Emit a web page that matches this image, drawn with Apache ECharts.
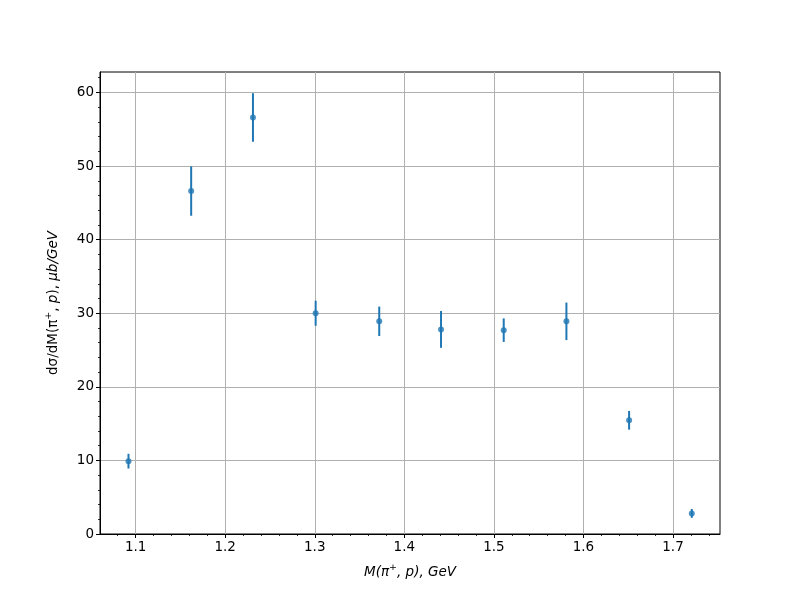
<!DOCTYPE html>
<html>
<head>
<meta charset="utf-8">
<script src="https://cdn.jsdelivr.net/npm/echarts@6/dist/echarts.min.js"></script>
<style>html,body{margin:0;padding:0;background:#fff}#c{width:800px;height:600px}</style>
</head>
<body>
<div id="c"></div>
<script>
const massValues = [1.092, 1.162, 1.231, 1.301, 1.372, 1.441, 1.511, 1.581, 1.651, 1.721];
const crossSection = [9.9, 46.6, 56.6, 30.0, 28.9, 27.8, 27.7, 28.9, 15.45, 2.8];
const errLow = [1.0, 3.35, 3.3, 1.7, 2.0, 2.5, 1.6, 2.55, 1.27, 0.6];
const errHigh = [1.0, 3.35, 3.3, 1.7, 2.0, 2.5, 1.6, 2.55, 1.27, 0.6];
const xMajorTicks = [1.1, 1.2, 1.3, 1.4, 1.5, 1.6, 1.7];
const xMinorTicks = [1.08, 1.12, 1.14, 1.16, 1.18, 1.22, 1.24, 1.26, 1.28, 1.32, 1.34, 1.36, 1.38, 1.42, 1.44, 1.46, 1.48, 1.52, 1.54, 1.56, 1.58, 1.62, 1.64, 1.66, 1.68, 1.72, 1.74];
const yMajorTicks = [0, 10, 20, 30, 40, 50, 60];
const yMinorTicks = [2,4,6,8,12,14,16,18,22,24,26,28,32,34,36,38,42,44,46,48,52,54,56,58,62];

const xMin = 1.0602, xMax = 1.7525, yMin = 0, yMax = 62.78;
const blue = '#1f77b4';
const FONT = 'DejaVu Sans';

const points = massValues.map((x, i) => [x, crossSection[i]]);
const errData = massValues.map((x, i) => [x, crossSection[i] - errLow[i], crossSection[i] + errHigh[i]]);

const chart = echarts.init(document.getElementById('c'), null, {renderer: 'canvas'});
const axisLineStyle = {color: '#000', width: 1};
chart.setOption({
  animation: false,
  backgroundColor: '#fff',
  grid: {left: 100, right: 80, top: 72, bottom: 66, show: true, borderColor: '#000', borderWidth: 1, backgroundColor: 'transparent'},
  xAxis: [{
    type: 'value', min: xMin, max: xMax,
    axisLine: {show: true, onZero: false, lineStyle: axisLineStyle},
    axisTick: {show: true, length: 4, customValues: xMajorTicks, lineStyle: {color: '#000', width: 1}},
    axisLabel: {customValues: xMajorTicks, color: '#000', fontFamily: FONT, fontSize: 13.5, margin: 6, formatter: v => v.toFixed(1)},
    splitLine: {show: true, lineStyle: {color: '#b0b0b0', width: 1}},
    name: '{i|M(π}{s|+}{i|, p), GeV}', nameLocation: 'middle', nameGap: 29,
    nameTextStyle: {rich: {
      i: {fontFamily: FONT, fontStyle: 'italic', fontSize: 13.5, color: '#000'},
      s: {fontFamily: FONT, fontStyle: 'normal', fontSize: 9.5, color: '#000', verticalAlign: 'bottom', padding: [0,0,8,0]}
    }}
  }, {
    type: 'value', min: xMin, max: xMax, position: 'bottom',
    axisLine: {show: false},
    axisTick: {show: true, length: 2, customValues: xMinorTicks, lineStyle: {color: '#000', width: 0.8}},
    axisLabel: {show: false},
    splitLine: {show: false}
  }],
  yAxis: [{
    type: 'value', min: yMin, max: yMax,
    axisLine: {show: true, onZero: false, lineStyle: axisLineStyle},
    axisTick: {show: true, length: 4, customValues: yMajorTicks, lineStyle: {color: '#000', width: 1}},
    axisLabel: {customValues: yMajorTicks, color: '#000', fontFamily: FONT, fontSize: 13.5, margin: 6},
    splitLine: {show: true, lineStyle: {color: '#b0b0b0', width: 1}},
    name: '{n|dσ/dM(π}{s|+}{n|, }{i|p}{n|), }{i|μb/GeV}', nameLocation: 'middle', nameGap: 38, nameRotate: 90,
    nameTextStyle: {rich: {
      n: {fontFamily: FONT, fontSize: 13.5, color: '#000'},
      i: {fontFamily: FONT, fontStyle: 'italic', fontSize: 13.5, color: '#000'},
      s: {fontFamily: FONT, fontSize: 9.5, color: '#000', verticalAlign: 'bottom', padding: [0,0,8,0]}
    }}
  }, {
    type: 'value', min: yMin, max: yMax, position: 'left',
    axisLine: {show: false},
    axisTick: {show: true, length: 2, customValues: yMinorTicks, lineStyle: {color: '#000', width: 0.8}},
    axisLabel: {show: false},
    splitLine: {show: false}
  }],
  series: [{
    type: 'custom',
    xAxisIndex: 0, yAxisIndex: 0,
    data: errData,
    renderItem: (params, api) => {
      const top = api.coord([api.value(0), api.value(2)]);
      const bot = api.coord([api.value(0), api.value(1)]);
      return {type: 'line', shape: {x1: top[0], y1: top[1], x2: bot[0], y2: bot[1]}, style: {stroke: blue, lineWidth: 2}};
    },
    z: 3
  }, {
    type: 'scatter',
    xAxisIndex: 0, yAxisIndex: 0,
    data: points,
    symbol: 'circle', symbolSize: 6,
    itemStyle: {color: blue},
    z: 4
  }]
});
</script>
</body>
</html>
